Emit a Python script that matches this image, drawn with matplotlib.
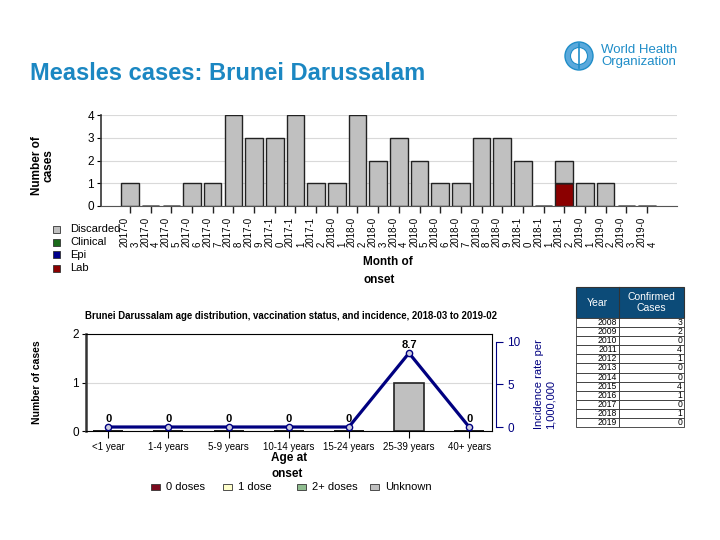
import matplotlib
matplotlib.use("Agg")
import matplotlib.pyplot as plt
from matplotlib.patches import Rectangle, Circle
import numpy as np

plt.rcParams['font.family'] = ['Liberation Sans', 'DejaVu Sans']

# ---------------- data ----------------
months = ['2017-03', '2017-04', '2017-05', '2017-06', '2017-07', '2017-08', '2017-09',
          '2017-10', '2017-11', '2017-12', '2018-01', '2018-02', '2018-03', '2018-04',
          '2018-05', '2018-06', '2018-07', '2018-08', '2018-09', '2018-10', '2018-11',
          '2018-12', '2019-01', '2019-02', '2019-03', '2019-04']
discarded = [1, 0, 0, 1, 1, 4, 3, 3, 4, 1, 1, 4, 2, 3, 2, 1, 1, 3, 3, 2, 0, 1, 1, 1, 0, 0]
clinical = [0] * 26
epi = [0] * 26
lab = [0, 0, 0, 0, 0, 0, 0, 0, 0, 0, 0, 0, 0, 0, 0, 0, 0, 0, 0, 0, 0, 1, 0, 0, 0, 0]

age_groups = ['<1 year', '1-4 years', '5-9 years', '10-14 years', '15-24 years',
              '25-39 years', '40+ years']
dose0 = [0, 0, 0, 0, 0, 0, 0]
dose1 = [0, 0, 0, 0, 0, 0, 0]
dose2 = [0, 0, 0, 0, 0, 0, 0]
unknown = [0, 0, 0, 0, 0, 1, 0]
incidence = [0, 0, 0, 0, 0, 8.7, 0]

table_years = ['2008', '2009', '2010', '2011', '2012', '2013', '2014', '2015',
               '2016', '2017', '2018', '2019']
table_cases = [3, 2, 0, 4, 1, 0, 0, 4, 1, 0, 1, 0]

W, H = 720, 540
fig = plt.figure(figsize=(7.2, 5.4), dpi=100)


def P(x, y):
    return (x / W, 1 - y / H)


def box(l, t, r, b):
    return [l / W, 1 - b / H, (r - l) / W, (b - t) / H]


# ---------------- title & logo ----------------
fig.text(*P(30, 73), 'Measles cases: Brunei Darussalam', color='#1b87c2',
         fontsize=17, fontweight='bold', va='center', ha='left')
lax = fig.add_axes(box(560, 40, 600, 72))
lax.set_xlim(0, 40); lax.set_ylim(32, 0); lax.set_aspect('equal'); lax.axis('off')
lax.add_patch(Circle((19, 16), 14, facecolor='#5aa9dc', edgecolor='#1f8dc8', lw=1))
lax.add_patch(Circle((19, 16), 8.5, facecolor='white', edgecolor='#1f8dc8', lw=0.8))
lax.plot([19, 19], [4, 28], color='#1f8dc8', lw=1.2)
fig.text(*P(601, 56), 'World Health\nOrganization', color='#1f8dc8', fontsize=9.5,
         va='center', ha='left', linespacing=1.0)

# ---------------- top chart ----------------
ax = fig.add_axes(box(101, 115, 677, 206))
x = np.arange(len(months))
bw = 0.85
cols = {'Discarded': '#c0c0c0', 'Clinical': '#1a6b1a', 'Epi': '#00008b', 'Lab': '#8b0000'}
bottom = np.zeros(len(months))
for name, vals in [('Lab', lab), ('Epi', epi), ('Clinical', clinical), ('Discarded', discarded)]:
    v = np.array(vals, dtype=float)
    ax.bar(x, v, bw, bottom=bottom, color=cols[name], edgecolor='#222222', linewidth=1.0)
    bottom += v
ax.set_xlim(-1.4, len(months) - 1 + 1.45)
ax.set_ylim(0, 4)
ax.set_yticks([0, 1, 2, 3, 4])
ax.yaxis.grid(True, color='#d9d9d9', lw=0.8)
ax.set_axisbelow(True)
for s in ['top', 'right']:
    ax.spines[s].set_visible(False)
ax.spines['left'].set_color('#333333')
ax.spines['left'].set_linewidth(1.2)
ax.spines['bottom'].set_color('#555555')
ax.set_xticks(x)
ax.set_xticklabels([m[:6] + '\n' + m[6:] for m in months], rotation=90,
                   fontsize=7, multialignment='left', linespacing=1.1)
ax.tick_params(axis='x', length=5, width=1, color='#222222', pad=3)
ax.tick_params(axis='y', length=3, labelsize=8.5, pad=2)
fig.text(*P(43, 166), 'Number of\ncases', fontsize=8.5, fontweight='bold', rotation=90,
         ha='center', va='center', linespacing=1.0)
fig.text(*P(363, 271), 'Month of\nonset', fontsize=8.5, fontweight='bold',
         ha='left', va='center', linespacing=1.6)

for i, (name, yy) in enumerate([('Discarded', 229), ('Clinical', 242), ('Epi', 255), ('Lab', 268)]):
    fig.add_artist(Rectangle(P(53, yy + 3.5), 7 / W, 7 / H, facecolor=cols[name],
                             edgecolor='#333333', lw=0.6, transform=fig.transFigure))
    fig.text(*P(70, yy), name, fontsize=8, ha='left', va='center')

# ---------------- bottom chart ----------------
ax2 = fig.add_axes(box(86, 334, 492, 431))
xa = np.arange(len(age_groups))
vcols = {'0 doses': '#7b0a1e', '1 dose': '#ffffcc', '2+ doses': '#8fbc8f', 'Unknown': '#c0c0c0'}
bottom = np.zeros(len(age_groups))
for name, vals in [('0 doses', dose0), ('1 dose', dose1), ('2+ doses', dose2), ('Unknown', unknown)]:
    v = np.array(vals, dtype=float)
    ax2.bar(xa, v, 0.5, bottom=bottom, color=vcols[name], edgecolor='#222222', linewidth=1.2)
    bottom += v
ax2.set_xlim(-0.37, len(age_groups) - 1 + 0.38)
ax2.set_ylim(0, 2)
ax2.set_yticks([0, 1, 2])
ax2.yaxis.grid(True, color='#d9d9d9', lw=0.8)
ax2.set_axisbelow(True)
ax2.spines['left'].set_linewidth(1.8)
ax2.spines['left'].set_color('#333333')
ax2.set_xticks(xa)
ax2.set_xticklabels(age_groups, fontsize=7)
ax2.tick_params(axis='x', length=5, pad=3)
ax2.tick_params(axis='y', length=3, labelsize=8.5, pad=2)

tw = ax2.twinx()
tw.set_ylim(-0.47, 10.94)
tw.plot(xa, incidence, color='#000080', lw=2.3, marker='o', ms=4.5,
        mfc='#d0d0e0', mec='#000080', mew=1.0, zorder=5)
for xi, yi in zip(xa, incidence):
    lbl = '0' if yi == 0 else f'{yi:g}'
    tw.annotate(lbl, (xi, yi), xytext=(0, 2), textcoords='offset points',
                ha='center', va='bottom', fontsize=8, fontweight='bold')
tw.set_yticks([0, 5, 10])
tw.spines['right'].set_bounds(0, 10)
tw.spines['right'].set_position(('outward', 3))
tw.spines['right'].set_color('#000080')
tw.tick_params(axis='y', colors='#000080', labelcolor='#000080', length=5,
               labelsize=8.5, pad=3)
for s in ['top', 'left', 'bottom']:
    tw.spines[s].set_visible(False)
ax2.spines['right'].set_color('black')

fig.text(*P(85, 316), 'Brunei Darussalam age distribution, vaccination status, and incidence, 2018-03 to 2019-02',
         fontsize=6.9, fontweight='bold', ha='left', va='center')
fig.text(*P(37, 382), 'Number of cases', fontsize=7.5, fontweight='bold', rotation=90,
         ha='center', va='center')
fig.text(*P(545, 429), 'Incidence rate per\n1,000,000', fontsize=8, color='#000080', rotation=90,
         ha='center', va='bottom', multialignment='left', linespacing=1.2)
fig.text(*P(271, 452), 'Age at\nonset', fontsize=8.5, fontweight='bold',
         ha='left', va='top', linespacing=1.4)

for name, sx in [('0 doses', 151), ('1 dose', 223), ('2+ doses', 297), ('Unknown', 370)]:
    fig.add_artist(Rectangle(P(sx, 490), 9 / W, 6 / H, facecolor=vcols[name],
                             edgecolor='#333333', lw=0.6, transform=fig.transFigure))
    fig.text(*P(sx + 15, 487.5), name, fontsize=8, ha='left', va='center')

# ---------------- table ----------------
tl, tt, tr, tb = 576, 287, 684, 427
tax = fig.add_axes(box(tl, tt, tr, tb))
tax.set_xlim(tl, tr); tax.set_ylim(tb, tt); tax.axis('off')
hb = 318
cx = 619
tax.add_patch(Rectangle((tl, tt), tr - tl, hb - tt, facecolor='#0c4b78', edgecolor='#333333',
                        lw=0.8, clip_on=False))
tax.plot([cx, cx], [tt, hb], color='#333333', lw=0.8, clip_on=False)
tax.text((tl + cx) / 2, (tt + hb) / 2, 'Year', color='white', fontsize=7.5, ha='center', va='center')
tax.text((cx + tr) / 2, (tt + hb) / 2, 'Confirmed\nCases', color='white', fontsize=7.5,
         ha='center', va='center', linespacing=1.1)
rh = (tb - hb) / len(table_years)
for i, (yr, c) in enumerate(zip(table_years, table_cases)):
    y0 = hb + i * rh
    tax.add_patch(Rectangle((tl, y0), cx - tl, rh, facecolor='white', edgecolor='#333333',
                            lw=0.6, clip_on=False))
    tax.add_patch(Rectangle((cx, y0), tr - cx, rh, facecolor='white', edgecolor='#333333',
                            lw=0.6, clip_on=False))
    tax.text(cx - 2, y0 + rh / 2, yr, fontsize=6.2, ha='right', va='center')
    tax.text(tr - 2, y0 + rh / 2, str(c), fontsize=6.2, ha='right', va='center')

fig.savefig('out.png', dpi=100)
